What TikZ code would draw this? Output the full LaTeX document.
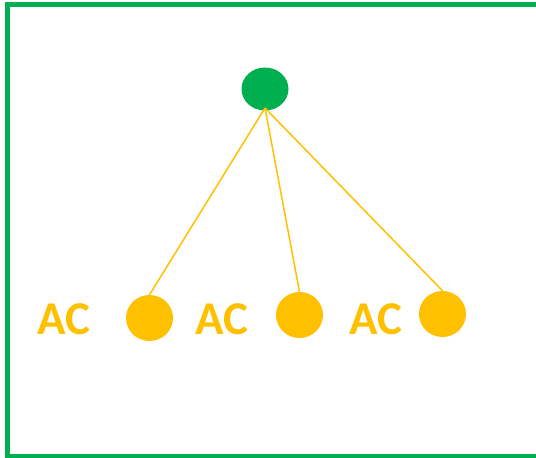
\documentclass[tikz,border=0pt]{standalone}
\usepackage{fontspec}
\setmainfont{Carlito}
\usetikzlibrary{shapes.geometric}
\definecolor{pgreen}{HTML}{00B050}
\definecolor{pyellow}{HTML}{FFC000}
\tikzset{
  topnode/.style={ellipse, fill=pgreen, minimum width=47pt, minimum height=43pt, inner sep=0pt},
  leaf/.style={ellipse, fill=pyellow, minimum width=47pt, minimum height=46pt, inner sep=0pt},
  lbl/.style={text=pyellow, font=\fontsize{47}{47}\selectfont\bfseries, inner sep=0pt},
  link/.style={draw=pyellow, line width=1.5pt}
}
\begin{document}
\begin{tikzpicture}[x=1pt,y=-1pt]
\useasboundingbox (0,0) rectangle (536,458);
\draw[pgreen, line width=4.5pt] (545,4.5) -- (7.5,4.5) -- (7.5,456) -- (545,456);
\node[topnode] (r) at (265,89) {};
\node[leaf] (a) at (149.5,318) {};
\node[leaf] (b) at (299.5,315) {};
\node[leaf] (c) at (442.5,314) {};
\node[lbl] (la) at (63.5,319) {AC};
\node[lbl] (lb) at (221.5,319) {AC};
\node[lbl] (lc) at (375.5,319) {AC};
\coordinate (rb) at (265,108);
\draw[link] (rb) -- (a.north);
\draw[link] (rb) -- (b.north);
\draw[link] (rb) -- (c.north);
\end{tikzpicture}
\end{document}
